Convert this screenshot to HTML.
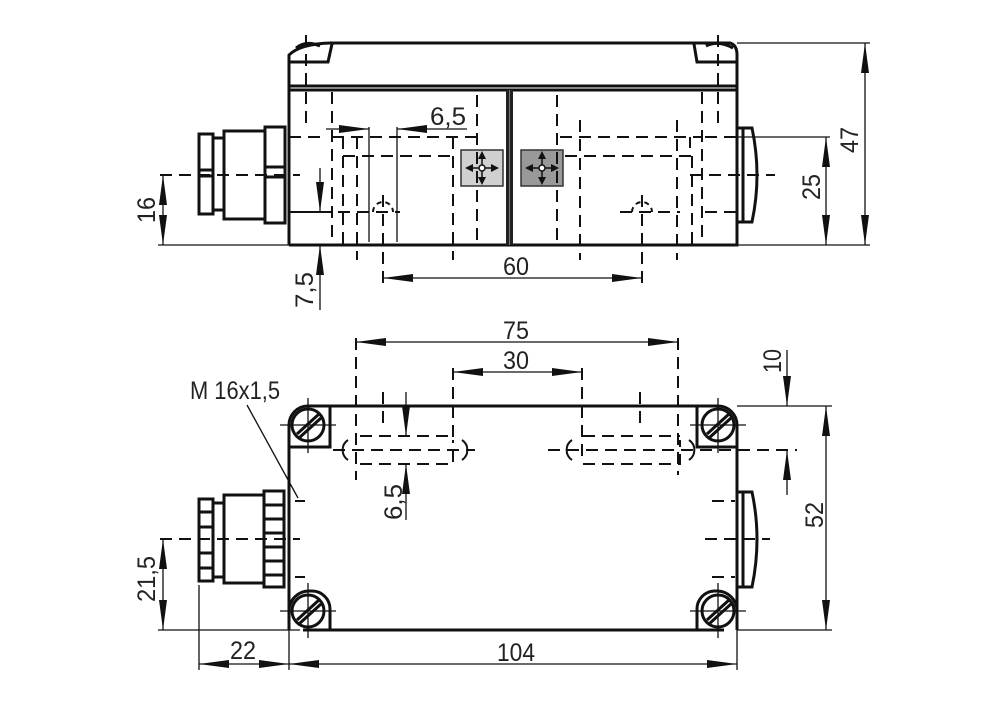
<!DOCTYPE html>
<html><head><meta charset="utf-8"><style>
html,body{margin:0;padding:0;background:#fff;width:1000px;height:701px;overflow:hidden}
svg{display:block}
text{font-family:"Liberation Sans",sans-serif;font-size:25px;fill:#222}
</style></head><body>
<svg width="1000" height="701" viewBox="0 0 1000 701" xmlns="http://www.w3.org/2000/svg">
<defs>
<marker id="a" viewBox="0 0 30 10" refX="30" refY="5" markerWidth="30" markerHeight="10" markerUnits="userSpaceOnUse" orient="auto-start-reverse"><path d="M0,1 L30,5 L0,9Z" fill="#111"/></marker>
</defs>
<g stroke="#111" fill="none">
<!-- ===== TOP VIEW ===== -->
<g stroke-width="3">
<path d="M289,245 V55 Q300,44 330,43 H700 M700,43 H730 Q737,45 737,55 V245 H289"/>
<line x1="289" y1="86" x2="737" y2="86"/>
<line x1="289" y1="90" x2="737" y2="90"/>
<path d="M289,62 H328 L332,44"/>
<path d="M737,62 H697 L694,44"/>
<path d="M296,48 Q306,40 320,46"/>
<path d="M706,46 Q718,40 733,48"/>
</g>
<rect x="506" y="90" width="7" height="155" fill="#222" stroke="none"/>
<line x1="509.5" y1="90" x2="509.5" y2="245" stroke="#777" stroke-width="1"/>
<g stroke-width="3">
<rect x="199" y="134" width="14" height="80"/>
<rect x="213" y="138" width="11" height="72"/>
<rect x="224" y="131" width="41" height="88"/>
<rect x="265" y="127" width="20" height="96"/>
<line x1="199" y1="170" x2="213" y2="170"/><line x1="199" y1="176" x2="213" y2="176"/>
<line x1="265" y1="167" x2="285" y2="167"/><line x1="265" y1="177" x2="285" y2="177"/>
<path d="M737,128 H752 Q762,175 752,222 H737"/>
<line x1="743" y1="128" x2="743" y2="222"/>
</g>
<rect x="461" y="150" width="42" height="36" fill="#d0d0d0" stroke="#333" stroke-width="1.5"/>
<rect x="521" y="150" width="42" height="36" fill="#999" stroke="#333" stroke-width="1.5"/>
<g stroke-width="1.5">
<path d="M482,155 V181 M467,168 H497"/><circle cx="482" cy="168" r="3" fill="#fff"/>
<path d="M542,155 V181 M527,168 H557"/><circle cx="542" cy="168" r="3" fill="#fff"/>
</g>
<g fill="#111" stroke="none">
<path d="M482,151 l-4,8 h8z M482,185 l-4,-8 h8z M465,168 l8,-4 v8z M499,168 l-8,-4 v8z"/>
<path d="M542,151 l-4,8 h8z M542,185 l-4,-8 h8z M525,168 l8,-4 v8z M559,168 l-8,-4 v8z"/>
</g>
<g stroke-width="2" stroke-dasharray="12,7">
<line x1="306" y1="35" x2="306" y2="130"/><line x1="718" y1="35" x2="718" y2="130"/>
<line x1="332" y1="92" x2="332" y2="245"/>
<line x1="357" y1="137" x2="357" y2="260"/>
<line x1="453" y1="137" x2="453" y2="260"/>
<line x1="477" y1="95" x2="477" y2="245"/>
<line x1="557" y1="95" x2="557" y2="245"/>
<line x1="580" y1="120" x2="580" y2="260"/>
<line x1="677" y1="120" x2="677" y2="260"/>
<line x1="702" y1="92" x2="702" y2="245"/>
<path d="M332,137 H477 M560,137 H702"/>
<path d="M343,137 V156 H453 M565,156 H690 V137"/>
<path d="M343,156 V245"/>
<path d="M692,156 V245"/>
<path d="M160,175 H300"/><path d="M690,175 H775"/>
<path d="M289,137 H320 M289,212 H320 M300,212 H400"/>
<path d="M705,137 H737 M705,212 H737 M620,212 H680"/>
<line x1="383" y1="195" x2="383" y2="285"/>
<line x1="642" y1="195" x2="642" y2="285"/>
</g>
<path d="M373,212 a10,10 0 0 1 20,0" stroke-width="2" stroke-dasharray="5,4"/>
<path d="M632,212 a10,10 0 0 1 20,0" stroke-width="2" stroke-dasharray="5,4"/>
<g stroke-width="1.3">
<line x1="369" y1="127" x2="369" y2="242"/><line x1="397" y1="127" x2="397" y2="242"/>
<line x1="326" y1="129" x2="369" y2="129" marker-end="url(#a)"/>
<line x1="467" y1="129" x2="397" y2="129" marker-end="url(#a)"/>
<line x1="383" y1="278" x2="642" y2="278" marker-start="url(#a)" marker-end="url(#a)"/>
<line x1="737" y1="43" x2="870" y2="43"/><line x1="737" y1="245" x2="870" y2="245"/>
<line x1="865" y1="43" x2="865" y2="245" marker-start="url(#a)" marker-end="url(#a)"/>
<line x1="737" y1="137" x2="830" y2="137"/>
<line x1="826" y1="137" x2="826" y2="245" marker-start="url(#a)" marker-end="url(#a)"/>
<line x1="158" y1="245" x2="289" y2="245"/>
<line x1="163" y1="175" x2="163" y2="245" marker-start="url(#a)" marker-end="url(#a)"/>
<line x1="320" y1="168" x2="320" y2="212" marker-end="url(#a)"/>
<line x1="320" y1="310" x2="320" y2="245" marker-end="url(#a)"/>
</g>
<!-- ===== BOTTOM VIEW ===== -->
<g stroke-width="3">
<path d="M289,630 V425 A19,19 0 0 1 308,406 H718 A19,19 0 0 1 737,425 V630"/>
<path d="M303,630 H724"/>
<path d="M330,406 V447 H289"/>
<path d="M697,406 V447 H737"/>
<path d="M289,611 A20,20 0 0 1 309,591 H312 A18,18 0 0 1 330,609 V630"/>
<path d="M737,611 A20,20 0 0 0 717,591 H714 A18,18 0 0 0 697,609 V630"/>
<circle cx="308" cy="425" r="16"/><circle cx="718" cy="425" r="16"/>
<circle cx="308" cy="611" r="16"/><circle cx="718" cy="611" r="16"/>
<path d="M297,434 L319,414 M299,438 L321,418"/>
<path d="M707,434 L729,414 M709,438 L731,418"/>
<path d="M297,620 L319,600 M299,624 L321,604"/>
<path d="M707,620 L729,600 M709,624 L731,604"/>
<rect x="199" y="499" width="14" height="82"/>
<rect x="213" y="503" width="11" height="74"/>
<rect x="224" y="495" width="40" height="88"/>
<rect x="264" y="491" width="20" height="96"/>
<path d="M199,512 H213 M199,527 H213 M199,553 H213 M199,568 H213"/>
<path d="M264,505 H284 M264,519 H284 M264,533 H284 M264,547 H284 M264,561 H284 M264,575 H284"/>
<path d="M737,492 H752 Q762,539 752,587 H737"/>
<line x1="743" y1="492" x2="743" y2="587"/>
</g>
<g stroke-width="1.3">
<path d="M308,398 V453 M308,583 V638 M718,398 V453 M718,583 V638 M280,425 H336 M280,611 H336 M690,425 H746 M690,611 H746"/>
</g>
<g stroke-width="2" stroke-dasharray="12,7">
<path d="M360,436 H453 M360,464 H453 V440"/>
<path d="M583,436 H680 M583,464 H680 V440"/>
<path d="M333,450 H475 M548,450 H797"/>
<line x1="356" y1="338" x2="356" y2="480"/>
<line x1="453" y1="368" x2="453" y2="440"/>
<line x1="582" y1="368" x2="582" y2="460"/>
<line x1="678" y1="338" x2="678" y2="475"/>
<line x1="383" y1="392" x2="383" y2="425"/>
<line x1="640" y1="392" x2="640" y2="425"/>
<path d="M160,539 H300 M705,539 H770"/>
<path d="M295,501 H305 M295,577 H305 M712,501 H735 M712,577 H735"/>
</g>
<path d="M348,440 a12,12 0 0 0 0,20 M462,440 a12,12 0 0 1 0,20 M572,440 a12,12 0 0 0 0,20 M689,440 a12,12 0 0 1 0,20" stroke-width="2"/>
<g stroke-width="1.3">
<line x1="356" y1="342" x2="678" y2="342" marker-start="url(#a)" marker-end="url(#a)"/>
<line x1="453" y1="372" x2="582" y2="372" marker-start="url(#a)" marker-end="url(#a)"/>
<line x1="406" y1="392" x2="406" y2="436" marker-end="url(#a)"/>
<line x1="406" y1="520" x2="406" y2="464" marker-end="url(#a)"/>
<line x1="737" y1="406" x2="832" y2="406"/><line x1="737" y1="630" x2="832" y2="630"/>
<line x1="826" y1="406" x2="826" y2="630" marker-start="url(#a)" marker-end="url(#a)"/>
<line x1="787" y1="350" x2="787" y2="406" marker-end="url(#a)"/>
<line x1="787" y1="495" x2="787" y2="450" marker-end="url(#a)"/>
<line x1="158" y1="630" x2="300" y2="630"/>
<line x1="163" y1="539" x2="163" y2="630" marker-start="url(#a)" marker-end="url(#a)"/>
<line x1="199" y1="585" x2="199" y2="670"/><line x1="289" y1="630" x2="289" y2="670"/><line x1="737" y1="630" x2="737" y2="670"/>
<line x1="199" y1="664" x2="289" y2="664" marker-start="url(#a)" marker-end="url(#a)"/>
<line x1="289" y1="664" x2="737" y2="664" marker-start="url(#a)" marker-end="url(#a)"/>
<line x1="247" y1="405" x2="298" y2="498"/>
</g>
</g>
<text x="430" y="125" textLength="36" lengthAdjust="spacingAndGlyphs">6,5</text>
<text x="503" y="275" textLength="26" lengthAdjust="spacingAndGlyphs">60</text>
<text x="503" y="339" textLength="26" lengthAdjust="spacingAndGlyphs">75</text>
<text x="503" y="369" textLength="26" lengthAdjust="spacingAndGlyphs">30</text>
<text x="497" y="661" textLength="38" lengthAdjust="spacingAndGlyphs">104</text>
<text x="230" y="659" textLength="26" lengthAdjust="spacingAndGlyphs">22</text>
<text x="190" y="399" textLength="90" lengthAdjust="spacingAndGlyphs">M 16x1,5</text>
<text transform="translate(858,153) rotate(-90)" textLength="26" lengthAdjust="spacingAndGlyphs">47</text>
<text transform="translate(820,200) rotate(-90)" textLength="26" lengthAdjust="spacingAndGlyphs">25</text>
<text transform="translate(155,223) rotate(-90)" textLength="26" lengthAdjust="spacingAndGlyphs">16</text>
<text transform="translate(313,308) rotate(-90)" textLength="36" lengthAdjust="spacingAndGlyphs">7,5</text>
<text transform="translate(402,520) rotate(-90)" textLength="36" lengthAdjust="spacingAndGlyphs">6,5</text>
<text transform="translate(155,602) rotate(-90)" textLength="46" lengthAdjust="spacingAndGlyphs">21,5</text>
<text transform="translate(823,528) rotate(-90)" textLength="26" lengthAdjust="spacingAndGlyphs">52</text>
<text transform="translate(781,373) rotate(-90)" textLength="24" lengthAdjust="spacingAndGlyphs">10</text>
</svg>
</body></html>
